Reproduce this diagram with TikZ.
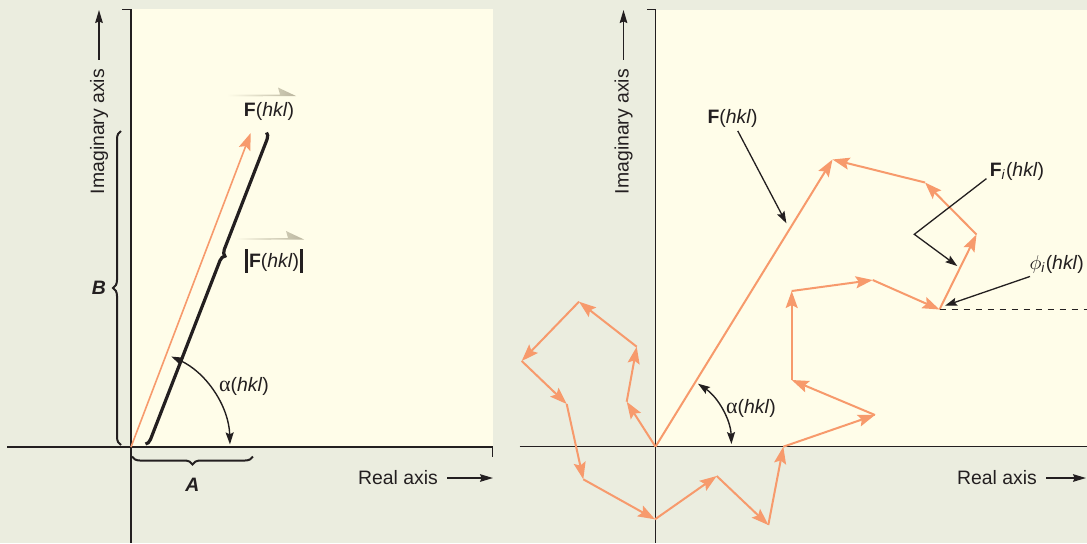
\documentclass[tikz,border=0pt]{standalone}
\usepackage{fontspec}
\setmainfont{Liberation Sans}
\newfontfamily\greekfont{Liberation Serif}
\usetikzlibrary{arrows.meta,positioning,decorations.pathreplacing}
\definecolor{sage}{HTML}{EBEDDF}
\definecolor{cream}{HTML}{FFFDE9}
\definecolor{salmon}{HTML}{F79A6C}
\definecolor{ink}{HTML}{231F20}
\definecolor{hatgray}{HTML}{BAB59E}

\begin{document}
\begin{tikzpicture}[x=0.5pt,y=0.5pt,font=\fontsize{9.7}{11}\selectfont,
  axis/.style={ink,line width=0.7pt},
  axarrow/.style={ink,line width=0.7pt,shorten <=3pt,-{Stealth[length=6.5pt,width=3.8pt,inset=0.8pt]}},
  vec/.style={salmon,line width=1pt,-{Stealth[length=8.5pt,width=6pt,inset=1.5pt]}},
  lead/.style={ink,line width=0.65pt,-{Stealth[length=6pt,width=4pt,inset=1pt]}},
  angarrow/.style={ink,line width=0.7pt,{Stealth[length=6pt,width=4pt,inset=1pt]}-{Stealth[length=6pt,width=4pt,inset=1pt]}},
  bracebar/.style={ink,decorate,decoration={brace,amplitude=#1}},
  lbl/.style={text=ink,inner sep=1.5pt}]
  \fill[sage] (0,0) rectangle (1087,-543);
  \useasboundingbox (0,0) rectangle (1087,-543);
  \fill[cream] (131,-9.3) rectangle (492.7,-447);
  \fill[cream] (655.5,-9.5) rectangle (1087,-446.7);

  \draw[axis] (122,-9.3) -- (131,-9.3) -- (131,-543);
  \draw[axis] (7,-447) -- (492.7,-447) -- (492.7,-456.5);
  \draw[axis] (647,-9.5) -- (655.5,-9.5) -- (655.5,-543);
  \draw[axis] (519.5,-446.7) -- (1087,-446.7);

  \node[lbl,rotate=90] (imagL) at (99,-131.5) {Imaginary axis};
  \draw[axarrow] (imagL.east) -- (imagL.east |- 0,-10);
  \node[lbl] (realL) at (398,-478) {Real axis};
  \draw[axarrow] (realL.east) -- (493,-478);
  \node[lbl,rotate=90] (imagR) at (623.5,-131.5) {Imaginary axis};
  \draw[axarrow] (imagR.east) -- (imagR.east |- 0,-10);
  \node[lbl] (realR) at (997,-478) {Real axis};
  \draw[axarrow] (realR.east) -- (1086,-478);

  \coordinate (O1) at (131,-447);
  \coordinate (F1) at (250.7,-133);
  \draw[vec,line width=0.8pt] (O1) -- (F1);
  \draw[bracebar=3pt,line width=1.6pt,decoration={aspect=0.39}] (266.5,-132.5) -- (145.5,-444);
  \draw[bracebar=4pt,line width=1pt] (121,-445) -- (121,-131);
  \draw[bracebar=4pt,line width=1pt] (253,-456.5) -- (132,-456.5);
  \node[lbl] (labB) at (99,-287.5) {\bfseries\itshape B};
  \node[lbl] (labA) at (192.5,-485) {\bfseries\itshape A};
  \shade[left color=cream,right color=hatgray] (227,-94.5) -- (280,-94.5) -- (278,-87.5) -- (296,-96) -- (227,-96.5) -- cycle;
  \node[lbl] (FL) at (269,-111) {\textbf{F}(\textit{hkl})};
  \shade[left color=cream,right color=hatgray] (235,-238) -- (288,-238) -- (286,-231) -- (304,-239.5) -- (235,-240) -- cycle;
  \node[lbl] (absFL) at (274,-261) {\vrule width 1.4pt height 0.95em depth 0.25em\kern0.5pt\textbf{F}(\textit{hkl})\kern0.5pt\vrule width 1.4pt height 0.95em depth 0.25em};
  \node[lbl] (alphaL) at (244,-386) {{\greekfont\fontsize{11}{11}\selectfont α}(\textit{hkl})};
  \draw[angarrow] (O1) ++(66:99) arc[start angle=66,end angle=1.5,radius=99];

  \coordinate (O2) at (655.5,-446.7);
  \coordinate (P1) at (626.7,-401.7);
  \coordinate (P2) at (636.7,-346.7);
  \coordinate (P3) at (579,-301.7);
  \coordinate (P4) at (521.7,-361);
  \coordinate (P5) at (566.7,-404);
  \coordinate (P6) at (583.3,-479.3);
  \coordinate (P7) at (655,-519.3);
  \coordinate (P8) at (716.7,-476);
  \coordinate (P9) at (768.3,-525);
  \coordinate (P10) at (783.3,-446.7);
  \coordinate (P11) at (875,-415);
  \coordinate (P12) at (791.7,-380);
  \coordinate (P13) at (791.7,-291);
  \coordinate (P14) at (872.7,-280);
  \coordinate (P15) at (939.5,-309.5);
  \coordinate (P16) at (976.5,-234.5);
  \coordinate (P17) at (925,-182.5);
  \coordinate (P18) at (832.5,-159.5);
  \foreach \a/\b in {O2/P1,P1/P2,P2/P3,P3/P4,P4/P5,P5/P6,P6/P7,P7/P8,P8/P9,P9/P10,
                     P10/P11,P11/P12,P12/P13,P13/P14,P14/P15,P15/P16,P16/P17,P17/P18} {
    \draw[vec] (\a) -- (\b);
  }
  \draw[vec] (O2) -- (P18);
  \coordinate (dashEnd) at (1087,-309.5);
  \draw[ink,line width=0.6pt,dash pattern=on 3pt off 3pt] (P15) -- (dashEnd);
  \draw[angarrow] (O2) ++(56:76) arc[start angle=56,end angle=2,radius=76];
  \node[lbl] (alphaR) at (751,-408) {{\greekfont\fontsize{11}{11}\selectfont α}(\textit{hkl})};

  \node[lbl] (FR) at (732.5,-118.5) {\textbf{F}(\textit{hkl})};
  \coordinate (FRtip) at (786.4,-223.3);
  \draw[lead] (FR.293) -- (FRtip);
  \node[lbl] (FiR) at (1017,-171) {\textbf{F}\textsubscript{\textit{i}}(\textit{hkl})};
  \coordinate (FiBend) at (914.3,-234.3);
  \coordinate (FiTip) at (957.3,-266);
  \draw[lead] (FiR.194) -- (FiBend) -- (FiTip);
  \node[lbl] (phiR) at (1056.7,-264) {$\phi$\textsubscript{\textit{i}}(\textit{hkl})};
  \coordinate (phiTip) at (945,-305.7);
  \draw[lead] (phiR.205) -- (phiTip);
\end{tikzpicture}
\end{document}
